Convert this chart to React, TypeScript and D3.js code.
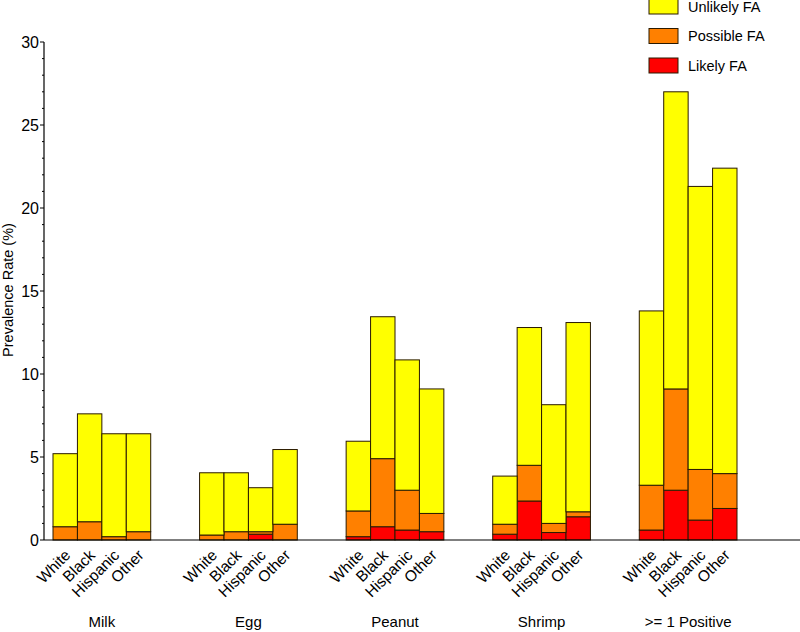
import React from "react";
import * as d3 from "d3";

const foods = ["Milk", "Egg", "Peanut", "Shrimp", ">= 1 Positive"];
const races = ["White", "Black", "Hispanic", "Other"];
const seriesNames = ["Likely FA", "Possible FA", "Unlikely FA"];

// per food, one value per race
const likely = [
  [0, 0, 0, 0],
  [0, 0, 0.35, 0],
  [0.2, 0.8, 0.6, 0.5],
  [0.35, 2.35, 0.45, 1.4],
  [0.6, 3.0, 1.2, 1.9],
];
const possible = [
  [0.8, 1.1, 0.2, 0.5],
  [0.3, 0.5, 0.15, 0.95],
  [1.55, 4.1, 2.4, 1.1],
  [0.6, 2.15, 0.55, 0.3],
  [2.7, 6.1, 3.05, 2.1],
];
const unlikely = [
  [4.4, 6.5, 6.2, 5.9],
  [3.75, 3.55, 2.65, 4.5],
  [4.2, 8.55, 7.85, 7.5],
  [2.9, 8.3, 7.15, 11.4],
  [10.5, 17.9, 17.05, 18.4],
];
const yTicks = [0, 5, 10, 15, 20, 25, 30];

const colors = ["#ff0000", "#ff8000", "#ffff00"];
const font = "'Liberation Sans', Arial, sans-serif";

export default function App() {
  const width = 800;
  const height = 632;
  const left = 44;
  const base = 540;

  const y = d3.scaleLinear().domain([0, 30]).range([base, 42]);
  const xGroup = d3.scaleBand().domain(foods).range([53, 737]).paddingInner(1 / 3).paddingOuter(0);
  const xRace = d3.scaleBand().domain(races).range([0, xGroup.bandwidth()]).padding(0);

  const rows = foods.flatMap((f, fi) =>
    races.map((r, ri) => ({
      food: f,
      race: r,
      "Likely FA": likely[fi][ri],
      "Possible FA": possible[fi][ri],
      "Unlikely FA": unlikely[fi][ri],
    }))
  );
  const stacked = d3.stack<any>().keys(seriesNames)(rows);

  const minor = d3.range(0, 31, 1).filter((v) => v % 5 !== 0);

  return (
    <svg
      width={width}
      height={height}
      style={{ position: "absolute", left: 0, top: 0, background: "#fff" }}
      fontFamily={font}
    >
      {stacked.map((s, si) => (
        <g key={s.key} fill={colors[si]} stroke="#2a1a00" strokeWidth={1}>
          {s.map((d: any, i: number) => (
            <rect
              key={i}
              x={(xGroup(d.data.food) as number) + (xRace(d.data.race) as number)}
              y={y(d[1])}
              width={xRace.bandwidth()}
              height={Math.max(0, y(d[0]) - y(d[1]))}
            />
          ))}
        </g>
      ))}

      {/* axes */}
      <line x1={left} x2={800} y1={base} y2={base} stroke="#000" strokeWidth={1.2} />
      <line x1={left} x2={left} y1={y(30)} y2={base} stroke="#000" strokeWidth={1.2} />
      {yTicks.map((t) => (
        <g key={t}>
          <line x1={left - 4} x2={left} y1={y(t)} y2={y(t)} stroke="#000" />
          <text x={left - 5} y={y(t)} dy="0.36em" textAnchor="end" fontSize={16} fill="#000">
            {t}
          </text>
        </g>
      ))}
      {minor.map((t) => (
        <line key={t} x1={left - 2} x2={left} y1={y(t)} y2={y(t)} stroke="#000" />
      ))}
      <text
        transform={`translate(13,290) rotate(-90)`}
        textAnchor="middle"
        fontSize={14.5}
        fill="#000"
      >
        Prevalence Rate (%)
      </text>

      {/* race labels */}
      {foods.map((f) =>
        races.map((r) => {
          const cx = (xGroup(f) as number) + (xRace(r) as number) + xRace.bandwidth() / 2;
          return (
            <text
              key={f + r}
              transform={`translate(${cx - 2},548) rotate(-45)`}
              dy="0.75em"
              textAnchor="end"
              fontSize={15.5}
              fill="#000"
            >
              {r}
            </text>
          );
        })
      )}
      {foods.map((f) => (
        <text
          key={f}
          x={(xGroup(f) as number) + xGroup.bandwidth() / 2}
          y={627}
          textAnchor="middle"
          fontSize={15}
          fill="#000"
        >
          {f}
        </text>
      ))}

      {/* legend */}
      {[2, 1, 0].map((si, i) => (
        <g key={si} transform={`translate(649,${-1 + i * 29.5})`}>
          <rect width={29} height={15} fill={colors[si]} stroke="#2a1a00" strokeWidth={1} />
          <text x={39} y={7.5} dy="0.36em" fontSize={14.5} fill="#000">
            {seriesNames[si]}
          </text>
        </g>
      ))}
    </svg>
  );
}
